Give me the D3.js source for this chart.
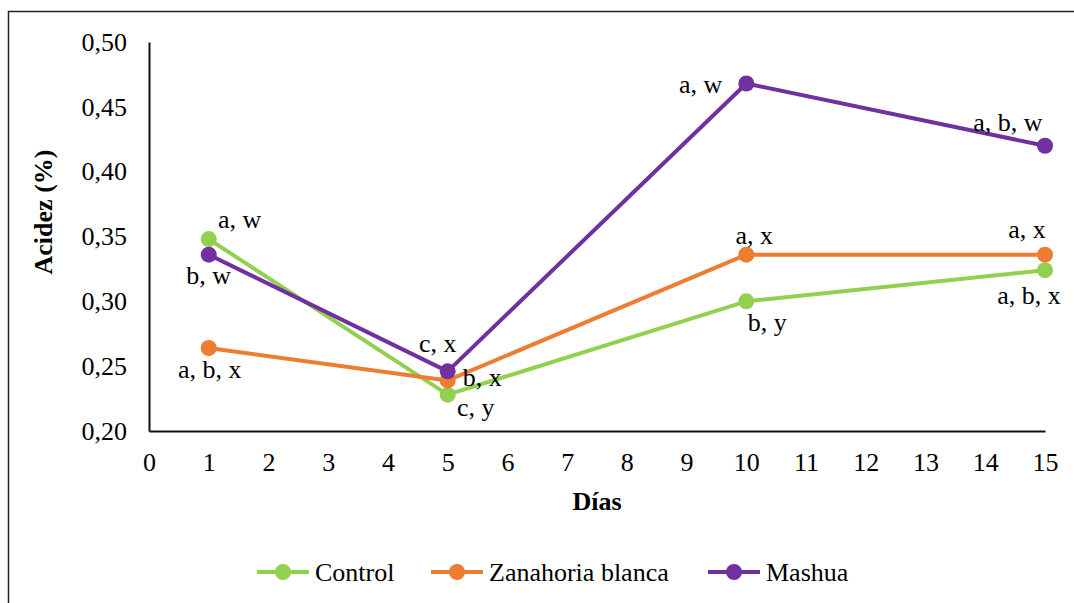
<!DOCTYPE html>
<html>
<head>
<meta charset="utf-8">
<script src="https://cdn.jsdelivr.net/npm/d3@7"></script>
<style>
  html, body { margin: 0; padding: 0; background: #fff; }
  svg { display: block; }
  svg text { font-family: "Liberation Serif", "Times New Roman", serif; }
</style>
</head>
<body>
<svg id="chart" width="1074" height="603"></svg>
<script>
// Sampling days and acidity (%) per treatment
const days = [1, 5, 10, 15];
const seriesNames = ["Control", "Zanahoria blanca", "Mashua"];
const controlValues = [0.348, 0.228, 0.300, 0.324];
const zanahoriaValues = [0.264, 0.239, 0.336, 0.336];
const mashuaValues = [0.336, 0.246, 0.468, 0.420];

// Significance letters shown beside each point
const controlLetters = ["a, w", "c, y", "b, y", "a, b, x"];
const zanahoriaLetters = ["a, b, x", "b, x", "a, x", "a, x"];
const mashuaLetters = ["b, w", "c, x", "a, w", "a, b, w"];

// Axis ticks
const xTicks = d3.range(0, 16);
const yTicks = [0.20, 0.25, 0.30, 0.35, 0.40, 0.45, 0.50];

// Styling and label placement (offsets from each point, text anchor)
const colors = ["#92D050", "#ED7D31", "#7030A0"];
const labelPlacement = [
  [[31, -11, "middle"], [28, 21, "middle"], [21, 30, "middle"], [-16, 34, "middle"]],
  [[1, 30, "middle"], [15, 6, "start"], [8, -11, "middle"], [-18, -17, "middle"]],
  [[0, 29, "middle"], [-10, -19, "middle"], [-24, 10, "end"], [-37, -15, "middle"]]
];

const series = seriesNames.map((name, i) => ({
  name,
  color: colors[i],
  values: [controlValues, zanahoriaValues, mashuaValues][i],
  letters: [controlLetters, zanahoriaLetters, mashuaLetters][i],
  place: labelPlacement[i]
}));

const svg = d3.select("#chart");
const W = 1074, H = 603;
const fontSize = "26px";
const serif = "'Liberation Serif', 'Times New Roman', serif";

// Outer chart frame
svg.append("rect")
  .attr("x", 8.5).attr("y", 11.5)
  .attr("width", W + 20).attr("height", H + 20)
  .attr("fill", "none").attr("stroke", "#222").attr("stroke-width", 1.5);

const x = d3.scaleLinear().domain([0, 15]).range([149, 1045]);
const y = d3.scaleLinear().domain([0.20, 0.50]).range([431, 42]);

const fmt = v => d3.format(".2f")(v).replace(".", ",");

// Y axis: line without tick marks, labels on the left
const yAxis = svg.append("g")
  .attr("transform", `translate(${x(0)},0)`)
  .call(d3.axisLeft(y).tickValues(yTicks).tickFormat(fmt).tickSize(0).tickPadding(22));
yAxis.attr("font-family", null);
yAxis.select(".domain").attr("stroke", "#111").attr("stroke-width", 2);
yAxis.selectAll("text")
  .style("font-family", serif).style("font-size", fontSize).attr("fill", "#000");

// X axis
const xAxis = svg.append("g")
  .attr("transform", `translate(0,${y(0.20)})`)
  .call(d3.axisBottom(x).tickValues(xTicks).tickFormat(d3.format("d")).tickSize(0).tickPadding(22));
xAxis.attr("font-family", null);
xAxis.select(".domain").attr("stroke", "#111").attr("stroke-width", 2);
xAxis.selectAll("text")
  .style("font-family", serif).style("font-size", fontSize).attr("fill", "#000");

// Axis titles
svg.append("text")
  .attr("transform", `translate(52,212) rotate(-90)`)
  .attr("text-anchor", "middle")
  .style("font-family", serif).style("font-size", fontSize).style("font-weight", "bold")
  .text("Acidez (%)");

svg.append("text")
  .attr("x", 597).attr("y", 510)
  .attr("text-anchor", "middle")
  .style("font-family", serif).style("font-size", fontSize).style("font-weight", "bold")
  .text("Días");

// Lines and markers
const line = d3.line().x((d, i) => x(days[i])).y(d => y(d));

const g = svg.append("g");
series.forEach(s => {
  g.append("path")
    .datum(s.values)
    .attr("d", line)
    .attr("fill", "none")
    .attr("stroke", s.color)
    .attr("stroke-width", 4)
    .attr("stroke-linejoin", "round");
});
series.forEach(s => {
  g.selectAll(null)
    .data(s.values)
    .join("circle")
    .attr("cx", (d, i) => x(days[i]))
    .attr("cy", d => y(d))
    .attr("r", 8)
    .attr("fill", s.color);
});

// Point labels
series.forEach(s => {
  g.selectAll(null)
    .data(s.values)
    .join("text")
    .attr("x", (d, i) => x(days[i]) + s.place[i][0])
    .attr("y", (d, i) => y(d) + s.place[i][1])
    .attr("text-anchor", (d, i) => s.place[i][2])
    .style("font-family", serif).style("font-size", fontSize)
    .attr("fill", "#000")
    .text((d, i) => s.letters[i]);
});

// Legend
const legendX = [257, 431, 708];
const legend = svg.append("g");
series.forEach((s, i) => {
  const lg = legend.append("g").attr("transform", `translate(${legendX[i]},572)`);
  lg.append("line").attr("x1", 0).attr("x2", 52).attr("y1", 0).attr("y2", 0)
    .attr("stroke", s.color).attr("stroke-width", 4);
  lg.append("circle").attr("cx", 26).attr("cy", 0).attr("r", 8).attr("fill", s.color);
  lg.append("text").attr("x", 58).attr("y", 9)
    .style("font-family", serif).style("font-size", fontSize)
    .attr("fill", "#000")
    .text(s.name);
});
</script>
</body>
</html>
